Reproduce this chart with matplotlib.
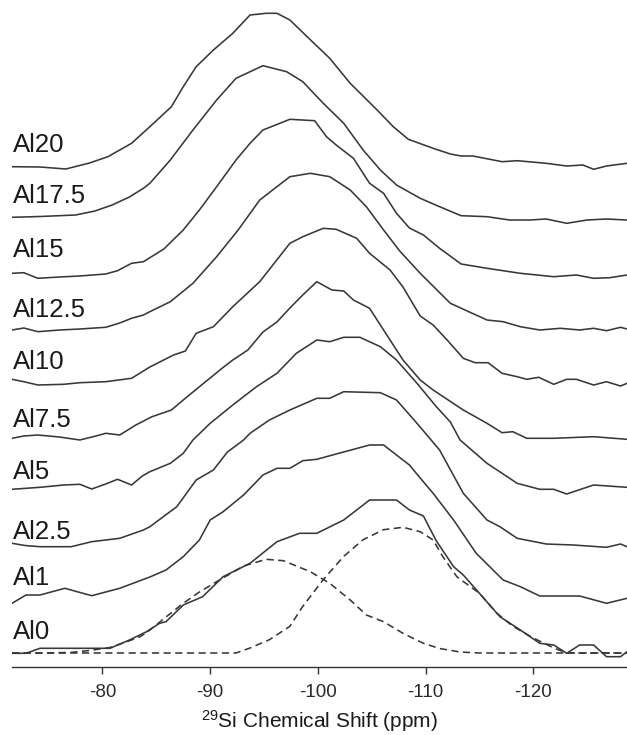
import numpy as np
import matplotlib
matplotlib.use("Agg")
import matplotlib.pyplot as plt

plt.rcParams['font.family'] = ['Liberation Sans', 'DejaVu Sans']
plt.rcParams['mathtext.default'] = 'regular'
plt.rcParams['axes.unicode_minus'] = False

# ----------------------------
#  Espectros 29Si MAS NMR (desplazamiento en ppm, intensidad en u.a.)
# ----------------------------
muestras = ["Al0", "Al1", "Al2.5", "Al5", "Al7.5", "Al10", "Al12.5", "Al15", "Al17.5", "Al20"]
# desplazamiento vertical de cada espectro
desplazamientos = [14, 64, 124, 178, 229, 288, 337, 394, 450, 500]
# altura de cada etiqueta sobre su espectro
ajuste_etiqueta = [21, 25, 11, 17, 18, 17, 20, 23, 21, 22]

ppm_al0 = np.array([-71.6, -72.9, -74.2, -80.7, -82.5, -84.1, -85.3, -85.9, -87.5, -89.3, -91.2, -93.7,
                    -96.2, -98.3, -99.9, -102.4, -104.8, -107.3, -108.5, -109.8, -111.0, -112.6, -113.5,
                    -115.0, -116.9, -118.8, -120.6, -121.9, -123.1, -124.3, -125.6, -126.8, -128.1, -128.7])
int_al0 = np.array([-0.3, -0.3, 4.7, 4.7, 13, 21.3, 29.7, 31.3, 48, 56.3, 76.3, 89.7,
                    111.3, 119.7, 119.7, 133, 153, 153, 143, 137, 112, 86.3, 78,
                    59.7, 36.3, 23, 9.7, 8, -0.3, 8, 8, -3.7, -3.7, 1.3])

ppm_al1 = np.array([-71.6, -72.9, -74.2, -76.5, -79.0, -81.6, -84.4, -85.9, -87.5, -89.0, -90.0, -91.2,
                    -93.1, -94.9, -96.2, -97.4, -98.6, -99.9, -101.7, -104.8, -106.1, -108.5, -109.5,
                    -110.7, -112.6, -114.7, -117.2, -118.8, -120.6, -124.3, -126.8, -128.7])
int_al1 = np.array([-0.3, 8, 8, 14.7, 7.3, 14.7, 26, 33, 46.3, 63, 83, 91.3,
                    108, 128, 134.7, 134.7, 142.3, 143.7, 149, 158, 158, 138, 125,
                    109.7, 83, 49.7, 23, 16.3, 7, 7, -0.3, 4.7])

ppm_al2_5 = np.array([-71.6, -72.8, -74.2, -77.1, -79.0, -81.6, -83.8, -84.4, -86.9, -88.7, -90.3, -91.6,
                      -93.1, -93.7, -95.5, -97.4, -99.9, -101.1, -102.4, -105.8, -107.3, -109.2, -111.3,
                      -113.5, -115.7, -116.9, -118.5, -121.2, -123.7, -126.8, -128.1, -128.7])
int_al2_5 = np.array([-0.3, -2.5, -3.7, -3.7, 1.3, 4.7, 13, 16.3, 36.3, 63, 73, 91,
                      103, 109.7, 123, 133, 144.7, 144.7, 151.3, 150.3, 143, 119.7, 93,
                      49.7, 23, 16.3, 4.7, -1, -2, -4.3, -1, -3.7])

ppm_al5 = np.array([-71.6, -74.2, -76.4, -77.9, -79.0, -80.3, -81.4, -82.7, -83.7, -84.4, -86.3, -87.5,
                    -88.4, -90.0, -92.1, -94.3, -96.2, -98.0, -99.9, -101.1, -102.4, -103.9, -105.8,
                    -107.3, -109.2, -111.0, -112.3, -113.2, -115.7, -118.5, -120.6, -121.9, -123.1,
                    -125.6, -128.7])
int_al5 = np.array([-0.3, 1.7, 4, 4.7, 0, 5, 9.7, 4, 13, 17.3, 25.7, 35.7,
                    49, 65.7, 84, 102.3, 115.7, 135.7, 149, 147.3, 151.7, 151.7, 142.3,
                    129, 105.7, 82.3, 67, 49, 25.7, 5.7, -0.3, -0.3, -5,
                    4, 1.7])

ppm_al7_5 = np.array([-71.6, -72.7, -74.0, -76.0, -77.9, -79.4, -80.3, -81.6, -83.1, -84.6, -86.4, -87.5,
                      -89.0, -90.0, -91.1, -92.1, -93.5, -94.9, -96.2, -97.4, -98.6, -99.9, -101.3,
                      -102.4, -103.3, -104.8, -106.1, -107.9, -109.5, -110.7, -113.5, -115.7, -117.1,
                      -118.1, -119.4, -121.9, -125.6, -128.7])
int_al7_5 = np.array([-0.3, 2, 3, 1, -2, 2, 4.7, 3, 13, 21.3, 28, 38,
                      51.3, 60, 69.7, 78, 88, 106, 116, 130, 143, 156.3, 148,
                      147, 138, 129.7, 108, 78, 58, 48, 28, 14.7, 5.3,
                      6.3, -0.3, -0.3, 1.3, -1.3])

ppm_al10 = np.array([-71.6, -72.7, -74.0, -76.4, -77.9, -80.3, -82.7, -84.4, -86.6, -87.7, -88.7, -90.3,
                     -92.1, -94.6, -97.4, -98.6, -100.5, -101.7, -103.6, -104.8, -106.7, -107.9, -109.5,
                     -110.7, -112.0, -113.5, -114.6, -115.8, -117.1, -118.5, -119.4, -120.5, -121.9,
                     -123.1, -124.0, -125.6, -126.8, -128.1, -128.7])
int_al10 = np.array([-0.3, -2.7, -6, -5.3, -3.7, -2.7, 0.7, 12, 24, 28, 45.7, 52.3,
                     72.3, 97.3, 135.7, 142.3, 150.7, 149.7, 140.7, 125.7, 109, 92, 63,
                     54, 39, 20.7, 16.3, 16.3, 5.7, 2.3, -0.3, 1.7, -5.3,
                     -0.3, -0.3, -6, -2.7, -7, -4.3])

ppm_al12_5 = np.array([-71.6, -72.7, -74.0, -76.0, -77.9, -80.3, -81.6, -82.7, -83.8, -84.4, -86.3, -88.4,
                       -90.6, -92.6, -94.6, -97.4, -99.3, -101.1, -103.0, -104.5, -106.1, -107.6, -109.5,
                       -112.3, -115.7, -117.2, -118.8, -120.6, -122.5, -124.3, -125.6, -126.8, -128.1,
                       -128.7])
int_al12_5 = np.array([0, 2, -1.7, 0, 1, 2.7, 7, 11.7, 15, 18.3, 28.3, 46.7,
                       73.3, 100, 130, 153.3, 156.7, 153.3, 140, 123.3, 100, 79, 56.7,
                       26.7, 10, 8.3, 3.3, 0, 1.7, 0, 1.7, -0.7, 2.7,
                       1])

ppm_al15 = np.array([-71.6, -72.7, -74.0, -76.0, -77.9, -80.3, -81.4, -82.7, -83.8, -85.7, -87.5, -89.0,
                     -90.6, -92.4, -93.7, -94.9, -97.4, -99.7, -100.8, -101.7, -103.3, -104.8, -106.1,
                     -107.3, -108.5, -109.8, -111.3, -113.3, -115.7, -118.8, -121.9, -124.0, -125.6,
                     -127.1, -128.7])
int_al15 = np.array([-0.3, 0.3, -5.3, -4, -3, -1, 2.3, 9.7, 11.3, 24, 43, 63,
                     86.3, 113, 129.7, 143, 153.7, 152.3, 136.3, 128, 114.7, 89.7, 79.7,
                     59.7, 45, 38, 24.7, 9, 4.7, -0.3, -3.7, -2, -5.3,
                     -4.7, -2])

ppm_al17_5 = np.array([-71.6, -74.2, -77.5, -79.3, -80.9, -82.5, -83.8, -84.4, -86.3, -88.4, -90.6, -92.4,
                       -94.9, -97.1, -98.6, -100.5, -102.4, -104.2, -105.8, -107.3, -109.5, -111.3, -113.3,
                       -115.7, -117.8, -119.7, -121.2, -123.1, -125.0, -126.8, -128.7])
int_al17_5 = np.array([-0.3, 0.5, 2, 6, 12, 20, 28.7, 33.7, 57, 87, 117, 138.7,
                       151.3, 145.3, 135.3, 113.7, 93.7, 67, 47, 32, 18.7, 10.3, 1.3,
                       0.3, -3, -3, -2, -6.3, -3, -2, -3])

ppm_al20 = np.array([-71.6, -74.2, -76.6, -78.8, -80.5, -82.7, -84.4, -86.4, -87.5, -88.7, -90.3, -92.1,
                     -93.7, -95.2, -96.2, -97.4, -99.0, -101.1, -103.0, -105.5, -107.0, -108.4, -110.7,
                     -112.3, -113.3, -114.4, -117.1, -118.5, -121.2, -123.1, -124.6, -125.6, -126.8,
                     -128.7])
int_al20 = np.array([0.3, 0, -2, 4, 10.3, 23.7, 40.3, 60.3, 80.3, 100.3, 117, 133.7,
                     152, 153.7, 153.7, 147, 130.3, 108.7, 83.7, 57, 40.3, 27.7, 18.7,
                     13, 11, 11, 5.3, 6.3, 3.7, 1, 2, -2.3, 1,
                     3.7])

# componentes del ajuste de Al0 (línea discontinua)
ppm_comp1 = np.array([-71.6, -74.2, -77.0, -78.8, -80.7, -82.2, -83.5, -84.4, -85.9, -87.5, -89.0, -90.6,
                      -93.1, -95.2, -96.8, -99.3, -101.1, -103.0, -104.5, -106.1, -107.9, -109.8, -111.3,
                      -113.2, -115.0, -128.7])
int_comp1 = np.array([0, 0, 0.5, 2.5, 5.5, 11, 16.3, 23, 36, 49.7, 61, 71.3,
                      87, 93.7, 92.3, 81.3, 69.7, 53, 38, 31.3, 19.7, 9.7, 4.5,
                      1, 0, 0])

ppm_comp2 = np.array([-71.6, -92.4, -93.7, -95.5, -97.4, -98.6, -100.5, -102.4, -104.2, -106.1, -107.9,
                      -109.5, -110.7, -111.6, -112.9, -115.0, -116.6, -118.1, -120.0, -121.9, -123.1, -128.7])
int_comp2 = np.array([0, 0, 5, 13.3, 26.7, 46.7, 73.3, 96.7, 113.3, 123.3, 125.7,
                      121.3, 113, 96.3, 76.3, 59.7, 40, 26.7, 15, 5, 0, 0])

espectros = [(ppm_al0, int_al0), (ppm_al1, int_al1), (ppm_al2_5, int_al2_5), (ppm_al5, int_al5),
             (ppm_al7_5, int_al7_5), (ppm_al10, int_al10), (ppm_al12_5, int_al12_5),
             (ppm_al15, int_al15), (ppm_al17_5, int_al17_5), (ppm_al20, int_al20)]

# ---------------------------------------------------
#  Figura
# ---------------------------------------------------
color_linea = '#383838'
fig = plt.figure(figsize=(6.27, 7.35), dpi=100)
ax = fig.add_axes([12 / 627, 68 / 735, 615 / 627, 667 / 735])

for (ppm, inten), base in zip(espectros, desplazamientos):
    ax.plot(ppm, inten + base, color=color_linea, linewidth=1.15, solid_joinstyle='miter')

for ppm, inten in [(ppm_comp1, int_comp1), (ppm_comp2, int_comp2)]:
    ax.plot(ppm, inten + desplazamientos[0], color=color_linea, linewidth=1.15,
            linestyle=(0, (4.5, 2.8)))

for nombre, base, extra in zip(muestras, desplazamientos, ajuste_etiqueta):
    ax.text(-71.7, base + extra, nombre, fontsize=18.5, color='#1a1a1a',
            ha='left', va='center')

ax.set_xlim(-71.6, -128.7)
ax.set_ylim(0, 667)
ax.set_xticks([-80, -90, -100, -110, -120])
ax.set_yticks([])
for lado in ['left', 'right', 'top']:
    ax.spines[lado].set_visible(False)
ax.spines['bottom'].set_color('#333333')
ax.spines['bottom'].set_linewidth(1.0)
ax.tick_params(axis='x', length=5, width=1.0, color='#333333', labelsize=13.5,
               labelcolor='#2a2a2a', pad=7)
ax.set_xlabel(r"$^{29}$Si Chemical Shift (ppm)", fontsize=15, color='#1a1a1a', labelpad=5)

fig.savefig("out.png", dpi=100)
